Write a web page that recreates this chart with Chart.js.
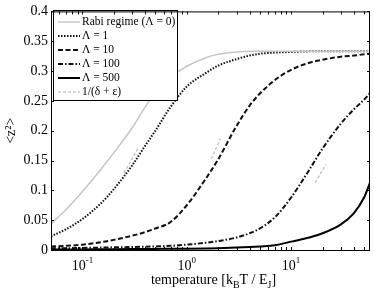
<!DOCTYPE html>
<html>
<head>
<meta charset="utf-8">
<script src="https://cdn.jsdelivr.net/npm/chart.js@4.4.1/dist/chart.umd.min.js"></script>
<style>
  html, body { margin: 0; padding: 0; background: #fff; }
  #wrap { width: 374px; height: 295px; position: relative; }
</style>
</head>
<body>
<div id="wrap"><canvas id="chart"></canvas></div>
<script>
// temperature grid [k_B T / E_J]
const TEMPS = [0.05, 0.07, 0.1, 0.15, 0.2, 0.3, 0.4, 0.5, 0.7, 1, 1.5, 2, 3, 4, 5, 7, 10, 15, 20, 30, 40, 50, 57];

// <z^2>
const RABI   = [0.044, 0.068, 0.098, 0.135, 0.163, 0.205, 0.240, 0.265, 0.290, 0.308, 0.322, 0.328, 0.332, 0.333, 0.333, 0.333, 0.333, 0.333, 0.333, 0.333, 0.333, 0.333, 0.333];
const LAM1   = [0.023, 0.035, 0.052, 0.078, 0.102, 0.142, 0.175, 0.200, 0.240, 0.274, 0.296, 0.309, 0.320, 0.326, 0.329, 0.331, 0.332, 0.333, 0.333, 0.333, 0.333, 0.333, 0.333];
const LAM10  = [0.006, 0.007, 0.009, 0.013, 0.017, 0.024, 0.030, 0.036, 0.047, 0.075, 0.118, 0.152, 0.208, 0.242, 0.262, 0.285, 0.302, 0.314, 0.319, 0.324, 0.326, 0.328, 0.329];
const LAM100 = [0.003, 0.003, 0.0035, 0.004, 0.0045, 0.005, 0.0055, 0.006, 0.007, 0.009, 0.012, 0.015, 0.021, 0.028, 0.036, 0.055, 0.088, 0.135, 0.170, 0.212, 0.236, 0.252, 0.263];
const LAM500 = [0.001, 0.001, 0.001, 0.0012, 0.0013, 0.0015, 0.0017, 0.0018, 0.002, 0.0022, 0.0026, 0.003, 0.004, 0.005, 0.006, 0.008, 0.014, 0.021, 0.028, 0.043, 0.062, 0.088, 0.113];

// short asymptote pieces, 1/(delta + eps); null splits the pieces
const ASYM_T = [0.25, 0.34, 0.34, 1.72, 2.1, 2.1, 17, 21.5];
const ASYM_Z = [0.129, 0.170, null, 0.153, 0.187, null, 0.113, 0.143];

const LABELS = ['Rabi regime (\u039B = 0)', '\u039B = 1', '\u039B = 10', '\u039B = 100', '\u039B = 500', '1/(\u03B4 + \u03B5)'];
const X_MAJOR = [0.1, 1, 10];
const X_MAJOR_EXP = ['-1', '0', '1'];
const Y_TICKS = [0, 0.05, 0.1, 0.15, 0.2, 0.25, 0.3, 0.35, 0.4];

const SERIF = "'Liberation Serif', 'Times New Roman', serif";
const GRAY = '#c2cac2';

const pts = (xs, ys) => xs.map((x, i) => ({ x, y: ys[i] }));

const series = (label, ys, color, width, dash) => ({
  label,
  data: pts(TEMPS, ys),
  borderColor: color,
  borderWidth: width,
  borderDash: dash,
  pointRadius: 0,
  fill: false,
  cubicInterpolationMode: 'monotone'
});

// legend drawn inside the axes, MATLAB style
const boxLegend = {
  id: 'boxLegend',
  afterDatasetsDraw(chart) {
    const { ctx } = chart;
    const x0 = 53.5, y0 = 10.5, w = 124, hgt = 90;
    ctx.save();
    ctx.fillStyle = '#fff';
    ctx.fillRect(x0, y0, w, hgt);
    ctx.strokeStyle = '#000';
    ctx.lineWidth = 1;
    ctx.setLineDash([]);
    ctx.strokeRect(x0, y0, w, hgt);
    ctx.font = '11.5px ' + SERIF;
    ctx.textBaseline = 'middle';
    chart.data.datasets.forEach((ds, i) => {
      const cy = 22 + i * 14;
      ctx.strokeStyle = ds.borderColor;
      ctx.lineWidth = ds.borderWidth;
      ctx.setLineDash(ds.borderDash || []);
      ctx.beginPath();
      ctx.moveTo(58, cy);
      ctx.lineTo(80, cy);
      ctx.stroke();
      ctx.setLineDash([]);
      ctx.fillStyle = '#000';
      ctx.fillText(ds.label, 82, cy);
    });
    ctx.restore();
  }
};

// box, inward ticks, x labels with superscripts, x title with subscripts
const matlabAxes = {
  id: 'matlabAxes',
  afterDraw(chart) {
    const { ctx, chartArea: a, scales: { x, y } } = chart;
    ctx.save();
    ctx.strokeStyle = '#000';
    ctx.lineWidth = 1;
    ctx.setLineDash([]);
    ctx.strokeRect(a.left + 0.5, a.top + 0.5, a.right - a.left - 1, a.bottom - a.top);

    ctx.beginPath();
    Y_TICKS.forEach(v => {
      const py = Math.round(y.getPixelForValue(v)) + 0.5;
      ctx.moveTo(a.left, py); ctx.lineTo(a.left + 3, py);
      ctx.moveTo(a.right, py); ctx.lineTo(a.right - 3, py);
    });
    for (let d = 0.01; d <= 10; d *= 10) {
      for (let k = 1; k <= 9; k++) {
        const v = k * d;
        if (v < x.min || v > x.max) continue;
        const px = Math.round(x.getPixelForValue(v)) + 0.5;
        ctx.moveTo(px, a.bottom); ctx.lineTo(px, a.bottom - 3);
        ctx.moveTo(px, a.top); ctx.lineTo(px, a.top + 3);
      }
    }
    ctx.stroke();

    ctx.fillStyle = '#000';
    ctx.textBaseline = 'alphabetic';
    X_MAJOR.forEach((v, i) => {
      const px = x.getPixelForValue(v);
      ctx.font = '14px ' + SERIF;
      const wb = ctx.measureText('10').width;
      ctx.font = '9px ' + SERIF;
      const we = ctx.measureText(X_MAJOR_EXP[i]).width;
      const sx = px - (wb + we) / 2;
      ctx.font = '14px ' + SERIF;
      ctx.fillText('10', sx, 270);
      ctx.font = '9px ' + SERIF;
      ctx.fillText(X_MAJOR_EXP[i], sx + wb, 263);
    });

    const parts = [['temperature [k', 0], ['B', 1], ['T / E', 0], ['J', 1], [']', 0]];
    const widths = parts.map(([t, sub]) => {
      ctx.font = (sub ? '10px ' : '14px ') + SERIF;
      return ctx.measureText(t).width;
    });
    let tx = (a.left + a.right) / 2 + 3 - widths.reduce((s, w) => s + w, 0) / 2;
    parts.forEach(([t, sub], i) => {
      ctx.font = (sub ? '10px ' : '14px ') + SERIF;
      ctx.fillText(t, tx, sub ? 288 : 284);
      tx += widths[i];
    });
    ctx.restore();
  }
};

new Chart(document.getElementById('chart'), {
  type: 'line',
  data: {
    datasets: [
      series(LABELS[0], RABI, GRAY, 1.5, []),
      series(LABELS[1], LAM1, '#111', 2, [1.5, 1.5]),
      series(LABELS[2], LAM10, '#111', 2, [5, 2.5]),
      series(LABELS[3], LAM100, '#111', 2, [5, 2, 1.5, 2]),
      series(LABELS[4], LAM500, '#000', 2, []),
      {
        label: LABELS[5],
        data: pts(ASYM_T, ASYM_Z),
        borderColor: GRAY,
        borderWidth: 1.5,
        borderDash: [3, 2],
        pointRadius: 0,
        spanGaps: false,
        fill: false
      }
    ]
  },
  options: {
    responsive: true,
    maintainAspectRatio: false,
    animation: false,
    events: [],
    layout: { padding: { left: 0, right: 4, top: 8, bottom: 0 } },
    plugins: {
      legend: { display: false },
      tooltip: { enabled: false }
    },
    scales: {
      x: {
        type: 'logarithmic',
        min: 0.05,
        max: 57,
        grid: { display: false, drawTicks: false },
        border: { display: false },
        ticks: { display: false },
        afterFit: s => { s.height = 45; }
      },
      y: {
        min: 0,
        max: 0.4,
        afterBuildTicks: s => { s.ticks = Y_TICKS.map(v => ({ value: v })); },
        grid: { display: false, drawTicks: false },
        border: { display: false },
        ticks: {
          color: '#000',
          padding: 3,
          font: { family: SERIF, size: 14 },
          callback: v => String(parseFloat(v.toFixed(2)))
        },
        title: {
          display: true,
          text: '<z\u00B2>',
          color: '#000',
          font: { family: SERIF, size: 14 },
          padding: { top: 3, bottom: 0 }
        },
        afterFit: s => { s.width = 51; }
      }
    }
  },
  plugins: [boxLegend, matlabAxes]
});
</script>
</body>
</html>
